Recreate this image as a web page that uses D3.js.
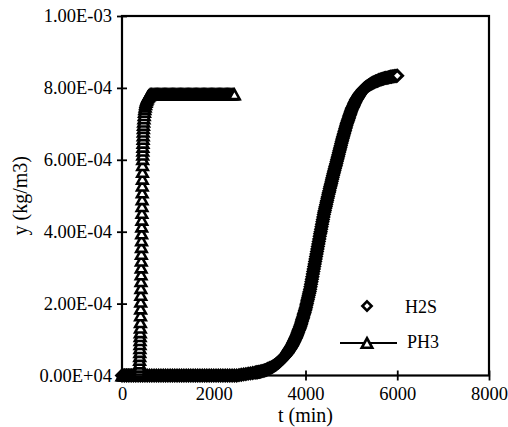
<!DOCTYPE html>
<html>
<head>
<meta charset="utf-8">
<script src="https://cdn.jsdelivr.net/npm/d3@7"></script>
<style>
  html, body { margin: 0; padding: 0; background: #fff; }
  svg { display: block; }
  text { font-family: "Liberation Serif", "Times New Roman", "DejaVu Serif", serif; fill: #000; }
</style>
</head>
<body>
<svg id="chart" width="508" height="427"></svg>
<script>
// Concentrations are listed in units of 1e-4 kg/m3, times in minutes.
const xTicks = [0, 2000, 4000, 6000, 8000];
const yTicks = [0, 2e-4, 4e-4, 6e-4, 8e-4, 1e-3];
const yTickLabels = ["0.00E+04", "2.00E-04", "4.00E-04", "6.00E-04", "8.00E-04", "1.00E-03"];
const seriesNames = ["H2S", "PH3"];

// H2S
const h2sTime = [
  0, 50, 100, 150, 200, 250, 300, 350, 400, 450, 500, 550, 600, 650, 700, 750, 800, 850, 900, 950,
  1000, 1050, 1100, 1150, 1200, 1250, 1300, 1350, 1400, 1450, 1500, 1550, 1600, 1650, 1700, 1750,
  1800, 1850, 1900, 1950, 2000, 2050, 2100, 2150, 2200, 2250, 2300, 2350, 2400, 2450, 2500, 2550,
  2600, 2650, 2700, 2750, 2800, 2850,
  2900, 2925, 2950, 2975, 3000, 3025, 3050, 3075, 3100, 3125, 3150, 3175, 3200, 3225, 3250, 3275,
  3300, 3325, 3350, 3375, 3400, 3425, 3450, 3475, 3500, 3525, 3550, 3575,
  3600, 3610, 3620, 3630, 3640, 3650, 3660, 3670, 3680, 3690,
  3700, 3710, 3720, 3730, 3740, 3750, 3760, 3770, 3780, 3790,
  3800, 3810, 3820, 3830, 3840, 3850, 3860, 3870, 3880, 3890,
  3900, 3910, 3920, 3930, 3940, 3950, 3960, 3970, 3980, 3990,
  4000, 4010, 4020, 4030, 4040, 4050, 4060, 4070, 4080, 4090,
  4100, 4110, 4120, 4130, 4140, 4150, 4160, 4170, 4180, 4190,
  4200, 4210, 4220, 4230, 4240, 4250, 4260, 4270, 4280, 4290,
  4300, 4310, 4320, 4330, 4340, 4350, 4360, 4370, 4380, 4390,
  4400, 4410, 4420, 4430, 4440, 4450, 4460, 4470, 4480, 4490,
  4500, 4510, 4520, 4530, 4540, 4550, 4560, 4570, 4580, 4590,
  4600, 4610, 4620, 4630, 4640, 4650, 4660, 4670, 4680, 4690,
  4700, 4710, 4720, 4730, 4740, 4750, 4760, 4770, 4780, 4790,
  4800, 4810, 4820, 4830, 4840, 4850, 4860, 4870, 4880, 4890,
  4900, 4910, 4920, 4930, 4940, 4950, 4960, 4970, 4980, 4990,
  5000, 5010, 5020, 5030, 5040, 5050, 5060, 5070, 5080, 5090,
  5100, 5110, 5120, 5130, 5140, 5150, 5160, 5170, 5180, 5190,
  5200,
  5225, 5250, 5275, 5300, 5325, 5350, 5375, 5400, 5425, 5450, 5475, 5500, 5525, 5550, 5575, 5600,
  5625, 5650, 5675, 5700, 5725, 5750, 5775, 5800, 5825, 5850, 5875, 5900, 5925, 5950, 5975, 6000
];
const h2sConc = [
  0, 0, 0, 0, 0, 0, 0, 0, 0, 0, 0, 0, 0, 0, 0, 0, 0, 0, 0, 0,
  0, 0, 0, 0, 0, 0, 0, 0, 0, 0, 0, 0, 0, 0, 0, 0,
  0, 0, 0, 0, 0, 0, 0, 0, 0, 0, 0, 0, 0, 0, 0, 0.01,
  0.02, 0.03, 0.04, 0.05, 0.06, 0.07,
  0.08, 0.09, 0.09, 0.10, 0.10, 0.11, 0.12, 0.13, 0.14, 0.15, 0.16, 0.18, 0.19, 0.21, 0.22, 0.24,
  0.26, 0.28, 0.30, 0.33, 0.35, 0.38, 0.41, 0.44, 0.47, 0.51, 0.54, 0.58,
  0.62, 0.64, 0.66, 0.68, 0.70, 0.72, 0.74, 0.76, 0.78, 0.80,
  0.82, 0.84, 0.87, 0.90, 0.92, 0.95, 0.97, 1.00, 1.03, 1.05,
  1.08, 1.11, 1.15, 1.18, 1.21, 1.25, 1.28, 1.31, 1.35, 1.38,
  1.42, 1.46, 1.51, 1.55, 1.59, 1.63, 1.68, 1.72, 1.76, 1.81,
  1.85, 1.90, 1.96, 2.01, 2.07, 2.12, 2.18, 2.23, 2.29, 2.34,
  2.40, 2.47, 2.54, 2.61, 2.68, 2.75, 2.82, 2.89, 2.96, 3.03,
  3.10, 3.17, 3.24, 3.31, 3.38, 3.45, 3.52, 3.59, 3.66, 3.73,
  3.80, 3.87, 3.94, 4.00, 4.07, 4.14, 4.21, 4.28, 4.34, 4.41,
  4.48, 4.54, 4.59, 4.65, 4.70, 4.76, 4.82, 4.87, 4.93, 4.98,
  5.04, 5.09, 5.14, 5.20, 5.25, 5.30, 5.35, 5.40, 5.46, 5.51,
  5.56, 5.61, 5.66, 5.71, 5.76, 5.81, 5.85, 5.90, 5.95, 6.00,
  6.05, 6.10, 6.15, 6.20, 6.25, 6.30, 6.35, 6.40, 6.45, 6.50,
  6.55, 6.60, 6.64, 6.69, 6.73, 6.78, 6.82, 6.87, 6.91, 6.96,
  7.00, 7.04, 7.08, 7.11, 7.15, 7.19, 7.23, 7.27, 7.30, 7.34,
  7.38, 7.41, 7.44, 7.46, 7.49, 7.52, 7.55, 7.58, 7.60, 7.63,
  7.66, 7.68, 7.70, 7.72, 7.74, 7.76, 7.78, 7.80, 7.82, 7.84,
  7.86,
  7.90, 7.94, 7.97, 8.00, 8.03, 8.05, 8.07, 8.09, 8.11, 8.13, 8.15, 8.16, 8.18, 8.19, 8.20, 8.22,
  8.23, 8.24, 8.25, 8.26, 8.27, 8.28, 8.28, 8.29, 8.30, 8.31, 8.31, 8.32, 8.32, 8.33, 8.33, 8.34
];

// PH3
const ph3Time = [
  0, 20, 40, 60, 80, 100, 120, 140, 160, 180, 200, 220, 240, 260, 280, 300, 320, 340, 360,
  370, 372, 374, 376, 378, 380, 382, 384, 386, 388, 390, 392, 394, 396, 398, 400, 402,
  404, 406, 408, 410, 412, 414, 416, 418, 420, 422, 424, 426, 428, 430, 432, 434, 436, 438,
  440, 442, 444, 446, 448, 450, 452, 454, 456, 458, 460, 462, 464, 466, 468,
  472, 478, 484, 490, 497, 505, 514, 524, 535, 547, 560, 575, 590, 610, 630,
  650, 675, 700, 725, 750, 775, 800, 825, 850, 875, 900, 925, 950, 975, 1000, 1025, 1050, 1075,
  1100, 1125, 1150, 1175, 1200, 1225, 1250, 1275, 1300, 1325, 1350, 1375, 1400, 1425, 1450, 1475,
  1500, 1525, 1550, 1575, 1600, 1625, 1650, 1675, 1700, 1725, 1750, 1775, 1800, 1825, 1850, 1875,
  1900, 1925, 1950, 1975, 2000, 2025, 2050, 2075, 2100, 2125, 2150, 2175, 2200, 2225, 2250, 2275,
  2300, 2325, 2350, 2375, 2400, 2425, 2450
];
const ph3Conc = [
  0, 0, 0, 0, 0, 0, 0, 0, 0, 0, 0, 0, 0, 0, 0, 0, 0, 0, 0,
  0, 0.02, 0.05, 0.10, 0.16, 0.24, 0.33, 0.43, 0.54, 0.65, 0.76, 0.87, 0.98, 1.09, 1.20, 1.33, 1.48,
  1.67, 1.86, 2.05, 2.24, 2.43, 2.62, 2.81, 3.00, 3.19, 3.38, 3.57, 3.76, 3.95, 4.14, 4.33, 4.52, 4.71, 4.90,
  5.09, 5.28, 5.47, 5.66, 5.85, 6.02, 6.14, 6.25, 6.36, 6.47, 6.58, 6.68, 6.78, 6.88, 6.97,
  7.06, 7.15, 7.24, 7.33, 7.41, 7.48, 7.55, 7.61, 7.66, 7.70, 7.74, 7.77, 7.79, 7.81, 7.82,
  7.82, 7.82, 7.82, 7.82, 7.82, 7.82, 7.82, 7.82, 7.82, 7.82, 7.82, 7.82, 7.82, 7.82, 7.82, 7.82, 7.82, 7.82,
  7.82, 7.82, 7.82, 7.82, 7.82, 7.82, 7.82, 7.82, 7.82, 7.82, 7.82, 7.82, 7.82, 7.82, 7.82, 7.82,
  7.82, 7.82, 7.82, 7.82, 7.82, 7.82, 7.82, 7.82, 7.82, 7.82, 7.82, 7.82, 7.82, 7.82, 7.82, 7.82,
  7.82, 7.82, 7.82, 7.82, 7.82, 7.82, 7.82, 7.82, 7.82, 7.82, 7.82, 7.82, 7.82, 7.82, 7.82, 7.82,
  7.82, 7.82, 7.82, 7.82, 7.82, 7.82, 7.82
];

const UNIT = 1e-4;
const toPoints = (ts, cs) => ts.map((t, i) => ({ t, c: cs[i] * UNIT }));
const h2s = toPoints(h2sTime, h2sConc);
const ph3 = toPoints(ph3Time, ph3Conc);

const svg = d3.select("#chart");
const plot = { left: 122, right: 489, top: 16, bottom: 375.5 };
const FONT = '"Liberation Serif", "Times New Roman", "DejaVu Serif", serif';

const x = d3.scaleLinear().domain([0, 8000]).range([plot.left, plot.right]);
const y = d3.scaleLinear().domain([0, 1e-3]).range([plot.bottom, plot.top]);

// marker shapes centred on their bounding box
const diamondPath = (r) => `M0,${-r}L${r},0L0,${r}L${-r},0Z`;
const trianglePath = (w, h) => `M0,${-h / 2}L${w / 2},${h / 2}L${-w / 2},${h / 2}Z`;
const DIAMOND = diamondPath(5.3);
const TRIANGLE = trianglePath(10.5, 9.5);

// frame
svg.append("rect")
  .attr("x", plot.left).attr("y", plot.top)
  .attr("width", plot.right - plot.left).attr("height", plot.bottom - plot.top)
  .attr("fill", "none").attr("stroke", "#000").attr("stroke-width", 2.2);

// axes with ticks crossing the axis line
const xAxis = d3.axisBottom(x).tickValues(xTicks).tickSize(10).tickFormat(d3.format("d"));
const gx = svg.append("g").attr("transform", `translate(0,${plot.bottom - 5})`).call(xAxis);
gx.attr("font-family", null);
gx.select(".domain").remove();
gx.selectAll(".tick line").attr("stroke", "#000").attr("stroke-width", 1.8);
gx.selectAll(".tick text")
  .attr("y", 16).attr("dy", "0.71em")
  .style("font-size", "18.5px")
  .style("font-family", FONT);

const yAxis = d3.axisLeft(y).tickValues(yTicks).tickSize(10)
  .tickFormat((d, i) => yTickLabels[i]);
const gy = svg.append("g").attr("transform", `translate(${plot.left + 5},0)`).call(yAxis);
gy.attr("font-family", null);
gy.select(".domain").remove();
gy.selectAll(".tick line").attr("stroke", "#000").attr("stroke-width", 1.8);
gy.selectAll(".tick text")
  .attr("x", -15)
  .style("font-size", "18.5px")
  .style("font-family", FONT);

// axis titles
svg.append("text")
  .attr("x", (plot.left + plot.right) / 2).attr("y", 422)
  .attr("text-anchor", "middle")
  .style("font-size", "20px")
  .text("t (min)");

svg.append("text")
  .attr("transform", `translate(27,${(plot.top + plot.bottom) / 2}) rotate(-90)`)
  .attr("text-anchor", "middle")
  .style("font-size", "20px")
  .text("y (kg/m3)");

// H2S: open diamonds
svg.append("g").selectAll("path")
  .data(h2s).join("path")
  .attr("d", DIAMOND)
  .attr("transform", d => `translate(${x(d.t)},${y(d.c)})`)
  .attr("fill", "#fff").attr("stroke", "#000").attr("stroke-width", 3);

// PH3: line with open triangles
svg.append("path")
  .datum(ph3)
  .attr("d", d3.line().x(d => x(d.t)).y(d => y(d.c)))
  .attr("fill", "none").attr("stroke", "#000").attr("stroke-width", 1.5);

svg.append("g").selectAll("path")
  .data(ph3).join("path")
  .attr("d", TRIANGLE)
  .attr("transform", d => `translate(${x(d.t)},${y(d.c)})`)
  .attr("fill", "#fff").attr("stroke", "#000").attr("stroke-width", 2.6);

// legend
const legend = svg.append("g");
legend.append("path").attr("d", diamondPath(4.6))
  .attr("transform", "translate(367,306)")
  .attr("fill", "#fff").attr("stroke", "#000").attr("stroke-width", 2.6);
legend.append("text").attr("x", 405).attr("y", 312.5)
  .style("font-size", "18px").text(seriesNames[0]);

legend.append("line").attr("x1", 340).attr("x2", 397).attr("y1", 343).attr("y2", 343)
  .attr("stroke", "#000").attr("stroke-width", 2.2);
legend.append("path").attr("d", TRIANGLE)
  .attr("transform", "translate(367,343)")
  .attr("fill", "#fff").attr("stroke", "#000").attr("stroke-width", 2.6);
legend.append("text").attr("x", 407).attr("y", 348)
  .style("font-size", "18px").text(seriesNames[1]);
</script>
</body>
</html>
